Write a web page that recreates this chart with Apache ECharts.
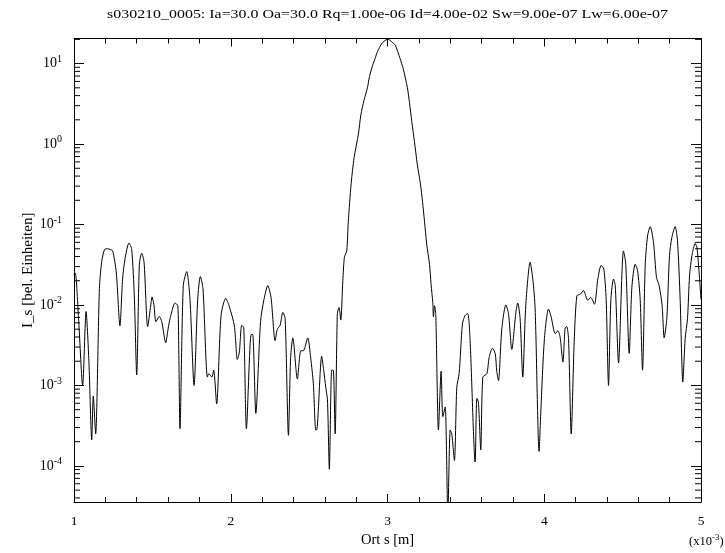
<!DOCTYPE html>
<html>
<head>
<meta charset="utf-8">
<script src="https://cdn.jsdelivr.net/npm/echarts@6/dist/echarts.min.js"></script>
<style>html,body{margin:0;padding:0;background:#fff;}#c{width:725px;height:553px;}</style>
</head>
<body>
<div id="c"></div>
<script>
// Data (x in units of 1e-3 m, intensity in arbitrary units)
const ortS = [
1.000,1.008,1.030,1.055,1.077,1.095,1.113,1.123,1.138,1.162,1.177,1.195,1.215,1.230,1.247,1.270,1.293,1.310,1.325,1.351,
1.368,1.385,1.400,1.417,1.432,1.447,1.470,1.490,1.498,1.510,1.523,1.544,1.560,1.585,1.600,1.613,1.645,1.662,1.668,1.676,
1.697,1.719,1.740,1.766,1.789,1.806,1.823,1.851,1.860,1.879,1.891,1.910,1.938,1.968,1.989,2.023,2.042,2.055,2.070,2.083,
2.100,2.130,2.140,2.160,2.190,2.212,2.236,2.257,2.283,2.297,2.315,2.332,2.347,2.368,2.382,2.396,2.425,2.447,2.463,2.491,
2.510,2.527,2.542,2.548,2.580,2.593,2.606,2.617,2.629,2.644,2.654,2.666,2.680,2.691,2.702,2.715,2.725,2.740,2.750,2.768,
2.787,2.814,2.830,2.850,2.872,2.885,2.905,2.921,2.936,2.964,2.990,3.005,3.027,3.049,3.080,3.100,3.127,3.140,3.155,3.172,
3.190,3.210,3.223,3.236,3.250,3.268,3.278,3.289,3.293,3.300,3.308,3.325,3.342,3.353,3.368,3.385,3.400,3.410,3.427,3.442,
3.457,3.478,3.495,3.512,3.527,3.559,3.570,3.580,3.595,3.608,3.634,3.648,3.669,3.687,3.697,3.708,3.729,3.755,3.772,3.793,
3.819,3.831,3.846,3.863,3.882,3.910,3.927,3.942,3.967,3.978,4.001,4.027,4.044,4.070,4.087,4.101,4.119,4.133,4.143,4.155,
4.172,4.191,4.208,4.230,4.250,4.278,4.297,4.320,4.342,4.363,4.380,4.395,4.410,4.425,4.442,4.453,4.474,4.495,4.505,4.520,
4.542,4.559,4.580,4.595,4.612,4.627,4.644,4.659,4.676,4.697,4.716,4.733,4.752,4.765,4.782,4.799,4.814,4.835,4.850,4.867,
4.884,4.899,4.914,4.927,4.942,4.963,4.975,5.000
];
const intensity = [
0.024,0.025,0.0063,0.0010,0.0083,0.0020,0.00021,0.00074,0.00025,0.016,0.035,0.049,0.050,0.049,0.047,0.025,0.0055,0.021,0.037,0.059,
0.049,0.0126,0.00135,0.032,0.044,0.034,0.0054,0.010,0.0126,0.010,0.0062,0.0072,0.0062,0.0034,0.0050,0.0068,0.0106,0.0098,0.0032,0.00029,
0.0174,0.026,0.0117,0.0010,0.0117,0.0226,0.0158,0.00127,0.0014,0.00127,0.00155,0.00059,0.0074,0.0121,0.0098,0.0055,0.0021,0.0026,0.0056,0.0052,
0.00029,0.0043,0.0043,0.00045,0.0062,0.0117,0.0174,0.0124,0.0036,0.0050,0.0056,0.0081,0.0068,0.00024,0.0022,0.0039,0.0012,0.0027,0.0027,0.0039,
0.0022,0.00105,0.00028,0.00028,0.0023,0.00155,0.00095,0.00066,0.000091,0.00155,0.00155,0.00025,0.0078,0.0093,0.0065,0.020,0.039,0.047,0.11,0.32,
0.68,1.32,2.3,3.5,5.0,6.9,9.5,11.6,14.1,17.8,19.7,20.0,18.6,17.0,11.6,8.7,5.0,3.3,1.9,1.07,
0.56,0.32,0.195,0.11,0.057,0.032,0.018,0.0107,0.0071,0.0098,0.0076,0.00028,0.0015,0.00041,0.00054,0.000025,0.00028,0.00025,0.000117,0.00095,
0.0014,0.0058,0.0074,0.0078,0.0036,0.000112,0.00069,0.00062,0.000158,0.00127,0.0014,0.0022,0.0029,0.0025,0.0015,0.00115,0.0050,0.010,0.0078,0.0028,
0.0081,0.0106,0.0068,0.00127,0.0098,0.034,0.021,0.0089,0.000151,0.00047,0.0038,0.0089,0.0071,0.0044,0.0048,0.0040,0.00195,0.0052,0.0054,0.0038,
0.00025,0.0035,0.013,0.0136,0.0151,0.0114,0.0124,0.0102,0.021,0.031,0.028,0.0117,0.0010,0.0117,0.021,0.0174,0.0019,0.023,0.047,0.032,
0.0025,0.0166,0.032,0.027,0.0117,0.00155,0.031,0.072,0.094,0.060,0.022,0.0174,0.0098,0.0039,0.0068,0.041,0.069,0.094,0.063,0.0117,
0.0011,0.0038,0.0068,0.023,0.041,0.058,0.051,0.0117
];
const xRange = [1, 5];
const yRange = [3.56e-5, 20.5];
const titleText = 's030210_0005: Ia=30.0 Oa=30.0 Rq=1.00e-06 Id=4.00e-02 Sw=9.00e-07 Lw=6.00e-07';
const yName = 'I_s [bel. Einheiten]';
const xName = 'Ort s [m]';

const FONT = 'Liberation Serif';
const chart = echarts.init(document.getElementById('c'), null, {renderer: 'canvas'});

// log minor tick positions (2..9 x 10^n)
const minorVals = [];
for (let e = -5; e <= 1; e++) {
  for (let k = 2; k <= 9; k++) {
    const v = k * Math.pow(10, e);
    if (v > yRange[0] && v < yRange[1]) minorVals.push([xRange[0], v]);
  }
}

function expLabel(value) {
  const e = Math.round(Math.log10(value));
  return '{b|10}{s|' + e + '}';
}

const xAxisCommon = {
  type: 'value', min: xRange[0], max: xRange[1], interval: 1,
  axisLine: {show: true, onZero: false, lineStyle: {color: '#000', width: 1}},
  axisTick: {show: true, inside: true, length: 8, lineStyle: {color: '#000'}},
  minorTick: {show: true, splitNumber: 5, length: 5, lineStyle: {color: '#000'}},
  splitLine: {show: false}, minorSplitLine: {show: false}
};
const yAxisCommon = {
  type: 'log', logBase: 10, min: yRange[0], max: yRange[1],
  axisLine: {show: true, onZero: false, lineStyle: {color: '#000', width: 1}},
  axisTick: {show: true, inside: true, length: 10, lineStyle: {color: '#000'}},
  splitLine: {show: false}
};

chart.setOption({
  animation: false,
  backgroundColor: '#fff',
  grid: {left: 74, right: 24, top: 38.5, bottom: 49, containLabel: false},
  graphic: [
    {type: 'text', x: 387.5, y: 14, scaleX: 1.18, style: {text: titleText, font: '13.5px "' + FONT + '"', fill: '#000', align: 'center', verticalAlign: 'middle'}},
    {type: 'text', x: 689, y: 533, style: {
      text: '(x10{s|-3})', fill: '#000', font: '12.5px "' + FONT + '"',
      rich: {s: {fontSize: 9, fontFamily: FONT, verticalAlign: 'top', padding: [0, 0, 8, 0]}}
    }}
  ],
  xAxis: [
    Object.assign({}, xAxisCommon, {
      position: 'bottom', name: xName, nameLocation: 'middle', nameGap: 31,
      nameTextStyle: {fontFamily: FONT, fontSize: 14.5, color: '#000'},
      axisLabel: {show: true, margin: 12, fontFamily: FONT, fontSize: 13.5, color: '#000'}
    }),
    Object.assign({}, xAxisCommon, {position: 'top', axisLabel: {show: false}})
  ],
  yAxis: [
    Object.assign({}, yAxisCommon, {
      position: 'left', name: yName, nameLocation: 'middle', nameGap: 38, nameRotate: 90,
      nameMoveOverlap: false,
      nameTextStyle: {fontFamily: FONT, fontSize: 15, color: '#000'},
      axisLabel: {
        show: true, margin: 12, showMinLabel: false, showMaxLabel: false,
        formatter: expLabel, color: '#000',
        rich: {
          b: {fontFamily: FONT, fontSize: 14, color: '#000'},
          s: {fontFamily: FONT, fontSize: 10, color: '#000', verticalAlign: 'top', padding: [0, 0, 9, 0]}
        }
      }
    }),
    Object.assign({}, yAxisCommon, {position: 'right', axisLabel: {show: false}})
  ],
  series: [
    {
      type: 'line', xAxisIndex: 0, yAxisIndex: 0,
      data: ortS.map((x, i) => [x, intensity[i]]),
      showSymbol: false, smooth: 0.25, clip: true,
      lineStyle: {color: '#000', width: 1}
    },
    {
      type: 'custom', xAxisIndex: 0, yAxisIndex: 0, silent: true, clip: false,
      data: minorVals,
      renderItem: function (params, api) {
        const v = api.value(1);
        const pl = api.coord([xRange[0], v]);
        const pr = api.coord([xRange[1], v]);
        return {type: 'group', children: [
          {type: 'line', shape: {x1: pl[0], y1: pl[1], x2: pl[0] + 6, y2: pl[1]}, style: {stroke: '#000', lineWidth: 1}},
          {type: 'line', shape: {x1: pr[0], y1: pr[1], x2: pr[0] - 6, y2: pr[1]}, style: {stroke: '#000', lineWidth: 1}}
        ]};
      }
    }
  ]
});
</script>
</body>
</html>
